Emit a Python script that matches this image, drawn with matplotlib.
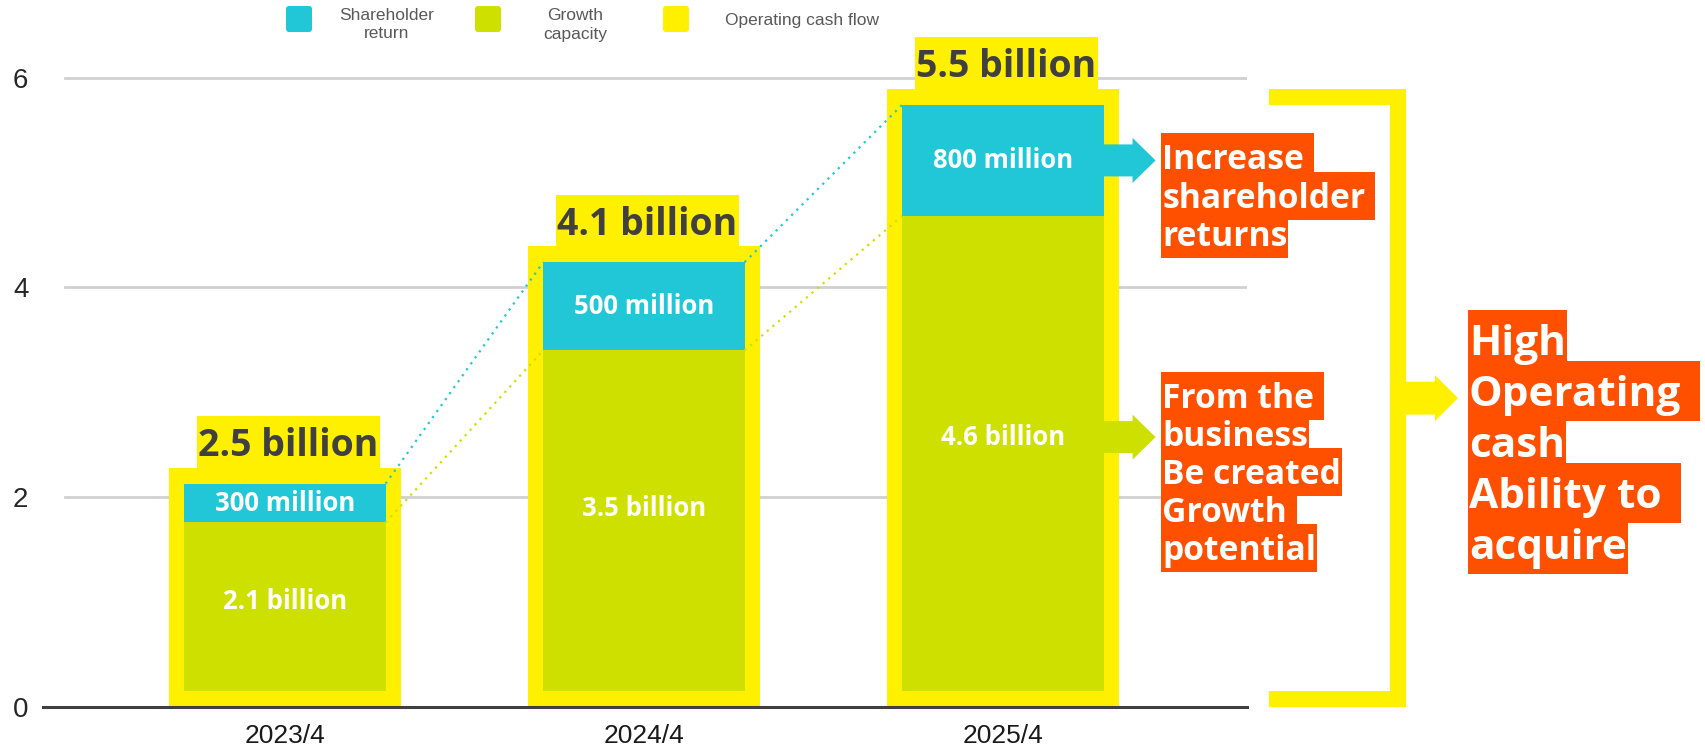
import numpy as np
import matplotlib.pyplot as plt
from matplotlib.patches import Rectangle, Polygon, FancyBboxPatch
from matplotlib.transforms import IdentityTransform

# chart values (billions), segments sit on a small inset inside the yellow frame
years = ['2023/4', '2024/4', '2025/4']
growth = np.array([1.61, 3.25, 4.53])
returns = np.array([0.37, 0.84, 1.06])

total_labels = ['2.5 billion', '4.1 billion', '5.5 billion']
growth_labels = ['2.1 billion', '3.5 billion', '4.6 billion']
return_labels = ['300 million', '500 million', '800 million']

legend_names = [['Shareholder', 'return'], ['Growth', 'capacity'], ['Operating cash flow']]
returns_note = ['Increase ', 'shareholder ', 'returns']
growth_note = ['From the ', 'business', 'Be created', 'Growth ', 'potential']
cash_note = ['High', 'Operating ', 'cash', 'Ability to ', 'acquire']

CYAN = '#21C7D6'
GREEN = '#CEE000'
YELLOW = '#FFF000'
ORANGE = '#FF5000'
BOLD = 'Open Sans'

W, H = 1706, 751
fig = plt.figure(figsize=(W / 100, H / 100), dpi=100)
ax = fig.add_axes([43 / W, (H - 707.2) / H, 1204 / W, 707.2 / H])
ax.set_xlim(-0.674, 2.68)
ax.set_ylim(0, 707.2 / 104.95)

x = np.arange(len(years))
pad = 0.15
w_in = 0.561
seg_green_top = pad + growth
seg_cyan_top = seg_green_top + returns
frame_top = seg_cyan_top + pad

# grid and baseline
for gy in [2, 4, 6]:
    ax.axhline(gy, xmin=0.018, xmax=1, color='#D0D0D0', lw=2, zorder=0)
ax.axhline(0, color='#404040', lw=2.2, zorder=5, clip_on=False)

# yellow frames, stacked bars, total label boxes
ax.bar(x, frame_top, width=0.647, color=YELLOW, zorder=1)
ax.bar(x, growth, width=w_in, bottom=pad, color=GREEN, zorder=2)
ax.bar(x, returns, width=w_in, bottom=seg_green_top, color=CYAN, zorder=2)
ax.bar(x + 0.01, 0.495, width=0.508, bottom=frame_top, color=YELLOW, zorder=1)

# dotted series lines between bars
for i in range(len(x) - 1):
    xs = [x[i] + w_in / 2, x[i + 1] - w_in / 2]
    ax.plot(xs, [seg_cyan_top[i], seg_cyan_top[i + 1]], color=CYAN,
            ls=(0, (1, 2.3)), lw=1.6, zorder=3)
    ax.plot(xs, [seg_green_top[i], seg_green_top[i + 1]], color=GREEN,
            ls=(0, (1, 2.3)), lw=1.6, zorder=3)

for i in range(len(x)):
    ax.text(x[i] + 0.01, frame_top[i] + 0.11, total_labels[i], ha='center', va='baseline',
            color='#404040', fontsize=27, fontweight='bold', family=BOLD, zorder=4)
    ax.text(x[i], pad + growth[i] * 0.535, growth_labels[i], ha='center', va='center',
            color='white', fontsize=18.5, fontweight='bold', family=BOLD, zorder=4)
    ax.text(x[i], seg_green_top[i] + returns[i] / 2, return_labels[i], ha='center', va='center',
            color='white', fontsize=18.5, fontweight='bold', family=BOLD, zorder=4)

for s in ax.spines.values():
    s.set_visible(False)
ax.set_yticks([0, 2, 4, 6])
ax.set_yticklabels(['0', '2', '4', '6'], fontsize=20, family='Liberation Sans', color='#262626')
ax.set_xticks(x)
ax.set_xticklabels(years, fontsize=19, family='Liberation Sans', color='#1a1a1a')
ax.tick_params(axis='y', length=0, pad=10.5)
ax.tick_params(axis='x', length=0, pad=12)


def arrow(x0, yc, color, length=52, head=23, shaft=16, half=22.5):
    pts = [(x0, yc - shaft), (x0 + length - head, yc - shaft), (x0 + length - head, yc - half),
           (x0 + length, yc), (x0 + length - head, yc + half), (x0 + length - head, yc + shaft),
           (x0, yc + shaft)]
    fig.add_artist(Polygon(pts, closed=True, transform=IdentityTransform(),
                           color=color, lw=0, zorder=3))


# arrows out of the last bar
x_edge = x[-1] + w_in / 2
cx, cy = ax.transData.transform((x_edge, seg_green_top[-1] + returns[-1] / 2))
arrow(cx, cy, CYAN)
gx, gy = ax.transData.transform((x_edge, pad + growth[-1] * 0.535))
arrow(gx, gy, GREEN)

# bracket spanning the last frame
y_top = ax.transData.transform((0, frame_top[-1]))[1]
y_bot = ax.transData.transform((0, 0))[1]
for r in [Rectangle((1269, y_top - 16), 137, 16), Rectangle((1390, y_bot), 16, y_top - y_bot),
          Rectangle((1269, y_bot), 137, 16)]:
    r.set(color=YELLOW, lw=0, transform=IdentityTransform(), zorder=3)
    fig.add_artist(r)
arrow(1406, (y_top + y_bot) / 2, YELLOW, length=52, head=23, shaft=16.5, half=23)

# legend
for (lx, tx), col, name in zip([(286, 387), (475, 575), (663, 802)], [CYAN, GREEN, YELLOW], legend_names):
    fig.add_artist(FancyBboxPatch((lx, H - 32), 26, 26, boxstyle='round,pad=0,rounding_size=3',
                                  color=col, lw=0, transform=IdentityTransform()))
    ys = [15, 34] if len(name) == 2 else [21]
    for line, ly in zip(name, ys):
        fig.text(tx / W, 1 - ly / H, line, ha='center', va='center', fontsize=12.5,
                 family='Liberation Sans', color='#595959')

# orange notes, one highlight box per line
notes = []


def note(lines, x_left, base0, pitch, size, tail=0.3):
    for i, line in enumerate(lines):
        yb = H - (base0 + i * pitch)
        t = fig.text(x_left / W, yb / H, line.rstrip(), ha='left', va='baseline', color='white',
                     fontsize=size, fontweight='bold', family=BOLD, zorder=6)
        notes.append((t, line, x_left, yb, size * 100 / 72, tail))


note(returns_note, 1162, 169, 38.5, 24.2)
note(growth_note, 1162, 408, 38, 24.2)
note(cash_note, 1469, 355, 51, 30.5, tail=0.45)

fig.canvas.draw()
renderer = fig.canvas.get_renderer()
for t, line, x_left, yb, fpx, tail in notes:
    bb = t.get_window_extent(renderer)
    x1 = bb.x1 + (tail * fpx if line.endswith(' ') else 1)
    fig.add_artist(Rectangle((x_left - 1, yb - 0.36 * fpx), x1 - x_left + 1, 1.43 * fpx,
                             color=ORANGE, lw=0, transform=IdentityTransform(), zorder=5))

fig.savefig('out.png', dpi=100)
